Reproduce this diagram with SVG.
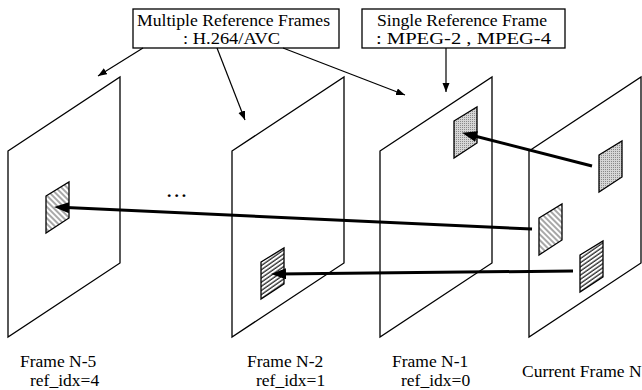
<svg xmlns="http://www.w3.org/2000/svg" width="642" height="390" viewBox="0 0 642 390">
<style>
  .frame { fill: #fff; stroke: #000; stroke-width: 1.3; stroke-linejoin: miter; }
  .blk { stroke: #000; stroke-width: 1.3; }
  .box { fill: #fff; stroke: #000; stroke-width: 1.3; }
  .txt { font-family: "Liberation Serif", "Times New Roman", serif; font-size: 17.5px; fill: #000; }
  .btxt { font-family: "Liberation Serif", "Times New Roman", serif; font-size: 16px; fill: #000; }
  .thin { fill: none; stroke: #000; stroke-width: 1.2; marker-end: url(#ahThin); }
  .thick { fill: none; stroke: #000; stroke-width: 3; marker-end: url(#ahThick); }
</style>
<defs>
  <marker id="ahThin" markerUnits="userSpaceOnUse" markerWidth="10" markerHeight="8" refX="9" refY="3.5" orient="auto">
    <path d="M0,0 L9,3.5 L0,7 Z" fill="#000"/>
  </marker>
  <marker id="ahThick" markerUnits="userSpaceOnUse" markerWidth="16" markerHeight="12" refX="8" refY="5.5" orient="auto">
    <path d="M0,0 L15,5.5 L0,11 Z" fill="#000"/>
  </marker>
  <pattern id="hatchLight" patternUnits="userSpaceOnUse" width="10" height="4" patternTransform="rotate(45)">
    <rect width="10" height="4" fill="#fff"/>
    <line x1="0" y1="1" x2="10" y2="1" stroke="#222" stroke-width="0.8"/>
  </pattern>
  <pattern id="hatchDense" patternUnits="userSpaceOnUse" width="10" height="3.4" patternTransform="rotate(-35)">
    <rect width="10" height="3.4" fill="#fff"/>
    <line x1="0" y1="1" x2="10" y2="1" stroke="#000" stroke-width="1.1"/>
  </pattern>
  <pattern id="dots" patternUnits="userSpaceOnUse" width="2" height="2">
    <rect width="2" height="2" fill="#d6d6d6"/>
    <rect width="1" height="1" fill="#8a8a8a"/>
  </pattern>
  <path id="block" d="M0,14 L23,0 L23,36 L0,51 Z"/>
  <path id="plane" d="M0,74 L112,0 L112,186 L0,260 Z"/>
</defs>

<g id="box-multiple">
  <rect class="box" x="133" y="9" width="206" height="39"/>
  <text class="btxt" x="137" y="26" textLength="193" lengthAdjust="spacingAndGlyphs">Multiple Reference Frames</text>
  <text class="btxt" x="183" y="44" textLength="97" lengthAdjust="spacingAndGlyphs">: H.264/AVC</text>
</g>
<g id="box-single">
  <rect class="box" x="362" y="9" width="203" height="39"/>
  <text class="btxt" x="377" y="26" textLength="170" lengthAdjust="spacingAndGlyphs">Single Reference Frame</text>
  <text class="btxt" x="376" y="44" textLength="175" lengthAdjust="spacingAndGlyphs">: MPEG-2 , MPEG-4</text>
</g>

<g id="frame-n5">
  <use href="#plane" class="frame" x="8" y="77"/>
  <use href="#block" class="blk" x="46" y="182" fill="url(#hatchLight)"/>
  <text class="txt" x="20" y="367">Frame N-5</text>
  <text class="txt" x="30" y="386">ref_idx=4</text>
</g>
<g id="frame-n2">
  <use href="#plane" class="frame" x="232" y="77"/>
  <use href="#block" class="blk" x="261" y="248" fill="url(#hatchDense)"/>
  <text class="txt" x="247" y="367">Frame N-2</text>
  <text class="txt" x="256" y="386">ref_idx=1</text>
</g>
<g id="ellipsis">
  <text class="txt" x="167" y="197" font-weight="bold" letter-spacing="3">...</text>
</g>
<g id="frame-n1">
  <use href="#plane" class="frame" x="380" y="77"/>
  <use href="#block" class="blk" x="454" y="107" fill="url(#dots)"/>
  <text class="txt" x="392" y="367">Frame N-1</text>
  <text class="txt" x="401" y="386">ref_idx=0</text>
</g>
<g id="frame-n">
  <use href="#plane" class="frame" x="529" y="77"/>
  <use href="#block" class="blk" x="599" y="141" fill="url(#dots)"/>
  <use href="#block" class="blk" x="539" y="204" fill="url(#hatchLight)"/>
  <use href="#block" class="blk" x="580" y="241" fill="url(#hatchDense)"/>
  <text class="txt" x="522" y="377">Current Frame N</text>
</g>

<g id="connectors">
  <line class="thin" x1="143" y1="48" x2="98" y2="76"/>
  <line class="thin" x1="217" y1="48" x2="245" y2="120"/>
  <line class="thin" x1="283" y1="48" x2="405" y2="95"/>
  <line class="thin" x1="446" y1="48" x2="446" y2="92"/>
  <line class="thick" x1="592" y1="166" x2="468.8" y2="134.5"/>
  <line class="thick" x1="532" y1="229" x2="61" y2="207.3"/>
  <line class="thick" x1="573" y1="271" x2="278" y2="273.9"/>
</g>
</svg>
